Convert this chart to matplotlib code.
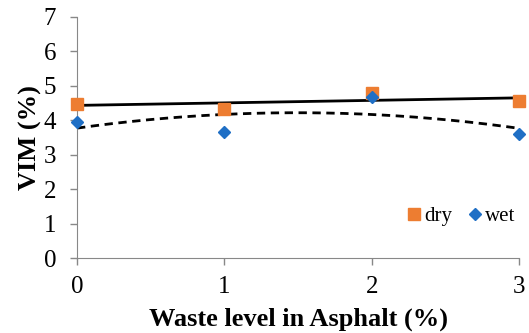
import numpy as np
import matplotlib
matplotlib.use("Agg")
import matplotlib.pyplot as plt

plt.rcParams['font.family'] = ['Liberation Serif', 'DejaVu Serif']

waste = [0, 1, 2, 3]
dry = [4.48, 4.33, 4.79, 4.57]
wet = [3.94, 3.67, 4.67, 3.60]

fig = plt.figure(figsize=(5.29, 3.33), dpi=100)
ax = fig.add_axes([0.1456, 0.225, 0.8355, 0.724])

# trend lines (linear for dry, 2nd order poly for wet)
xs = np.linspace(0, 3, 200)
ax.plot(xs, np.polyval(np.polyfit(waste, dry, 1), xs), color='black', lw=2)
ax.plot(xs, np.polyval(np.polyfit(waste, wet, 2), xs), color='black', lw=2,
        ls=(0, (3, 2)))

ax.plot(waste, dry, 's', color='#ED7D31', ms=9, label='dry', clip_on=False, zorder=3)
ax.plot(waste, wet, 'D', color='#1F6FC5', ms=6.5, label='wet', clip_on=False, zorder=4)

ax.set_xlim(0, 3)
ax.set_ylim(0, 7)
ax.set_xticks(waste)
ax.set_yticks(range(8))
ax.tick_params(labelsize=18, color='#888888', length=5, width=1)
ax.tick_params(axis='x', pad=8)
ax.tick_params(axis='y', pad=10)
for s in ['top', 'right']:
    ax.spines[s].set_visible(False)
for s in ['left', 'bottom']:
    ax.spines[s].set_color('#888888')

ax.set_xlabel('Waste level in Asphalt (%)', fontsize=19, fontweight='bold', labelpad=7)
ax.set_ylabel('VIM (%)', fontsize=19, fontweight='bold', labelpad=1)

ax.legend(loc='lower right', bbox_to_anchor=(1.035, 0.055), ncol=2, frameon=False,
          fontsize=15, handlelength=0.6, handletextpad=0.2, columnspacing=0.8,
          markerscale=0.9)

fig.savefig('out.png', dpi=100)
